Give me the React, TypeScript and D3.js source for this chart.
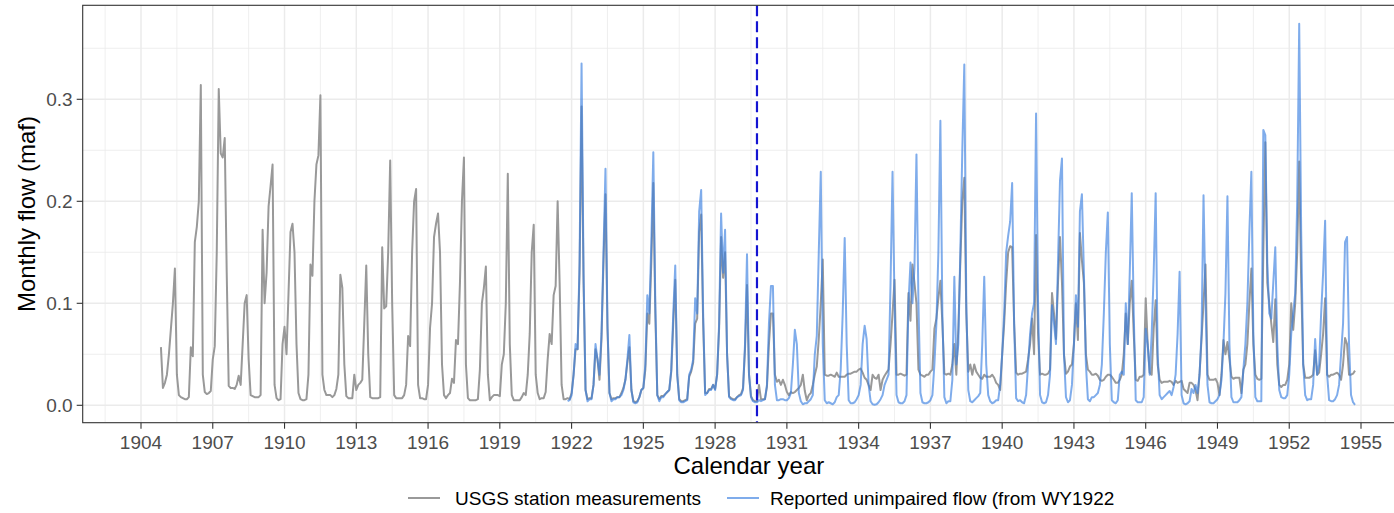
import React from 'react';
import * as d3 from 'd3';

// Monthly flow (maf), one row per water year (Oct..Sep)
const usgsFirstWY = 1905;
const usgsFlow: number[][] = [
  [0.057, 0.017, 0.022, 0.03, 0.05, 0.075, 0.1, 0.134, 0.03, 0.01, 0.008, 0.007],
  [0.006, 0.006, 0.008, 0.057, 0.048, 0.16, 0.175, 0.2, 0.314, 0.03, 0.013, 0.011],
  [0.012, 0.014, 0.045, 0.058, 0.15, 0.31, 0.247, 0.243, 0.262, 0.13, 0.019, 0.017],
  [0.017, 0.016, 0.02, 0.029, 0.02, 0.06, 0.1, 0.108, 0.045, 0.01, 0.009, 0.008],
  [0.008, 0.008, 0.01, 0.172, 0.1, 0.13, 0.195, 0.215, 0.236, 0.02, 0.007, 0.005],
  [0.006, 0.06, 0.077, 0.05, 0.11, 0.17, 0.178, 0.15, 0.06, 0.012, 0.006, 0.005],
  [0.005, 0.006, 0.03, 0.138, 0.127, 0.2, 0.236, 0.245, 0.304, 0.03, 0.015, 0.01],
  [0.01, 0.01, 0.008, 0.01, 0.016, 0.03, 0.128, 0.115, 0.04, 0.009, 0.007, 0.007],
  [0.007, 0.03, 0.015, 0.02, 0.022, 0.025, 0.08, 0.137, 0.05, 0.008, 0.007, 0.007],
  [0.007, 0.007, 0.008, 0.155, 0.095, 0.097, 0.15, 0.24, 0.1, 0.01, 0.007, 0.007],
  [0.007, 0.007, 0.01, 0.02, 0.068, 0.058, 0.15, 0.2, 0.212, 0.02, 0.007, 0.007],
  [0.006, 0.006, 0.02, 0.076, 0.1, 0.165, 0.178, 0.188, 0.15, 0.04, 0.01, 0.007],
  [0.01, 0.012, 0.026, 0.022, 0.064, 0.06, 0.12, 0.2, 0.243, 0.04, 0.007, 0.005],
  [0.005, 0.005, 0.005, 0.006, 0.035, 0.1, 0.115, 0.136, 0.03, 0.005, 0.008, 0.01],
  [0.01, 0.01, 0.009, 0.04, 0.05, 0.1, 0.227, 0.06, 0.01, 0.005, 0.005, 0.005],
  [0.005, 0.008, 0.012, 0.01, 0.03, 0.07, 0.15, 0.177, 0.03, 0.012, 0.006, 0.007],
  [0.007, 0.013, 0.045, 0.07, 0.06, 0.108, 0.117, 0.2, 0.12, 0.02, 0.006, 0.006],
  [0.007, 0.006, 0.012, 0.03, 0.055, 0.055, 0.13, 0.293, 0.12, 0.015, 0.006, 0.007],
  [0.007, 0.02, 0.055, 0.045, 0.025, 0.065, 0.14, 0.207, 0.075, 0.012, 0.006, 0.007],
  [0.007, 0.008, 0.008, 0.012, 0.017, 0.025, 0.042, 0.057, 0.015, 0.004, 0.003, 0.004],
  [0.008, 0.015, 0.017, 0.035, 0.09, 0.08, 0.14, 0.218, 0.09, 0.01, 0.006, 0.009],
  [0.009, 0.011, 0.013, 0.015, 0.033, 0.08, 0.123, 0.03, 0.006, 0.004, 0.004, 0.005],
  [0.006, 0.028, 0.033, 0.042, 0.08, 0.085, 0.17, 0.187, 0.08, 0.012, 0.012, 0.016],
  [0.016, 0.02, 0.016, 0.03, 0.075, 0.165, 0.125, 0.15, 0.05, 0.009, 0.007, 0.006],
  [0.006, 0.008, 0.01, 0.011, 0.017, 0.055, 0.118, 0.03, 0.009, 0.005, 0.004, 0.004],
  [0.02, 0.006, 0.006, 0.006, 0.018, 0.06, 0.09, 0.09, 0.03, 0.023, 0.025, 0.02],
  [0.025, 0.02, 0.013, 0.01, 0.013, 0.012, 0.013, 0.015, 0.017, 0.02, 0.03, 0.014],
  [0.005, 0.01, 0.012, 0.02, 0.03, 0.038, 0.065, 0.1, 0.143, 0.03, 0.029, 0.029],
  [0.03, 0.029, 0.028, 0.032, 0.028, 0.028, 0.028, 0.028, 0.03, 0.031, 0.031, 0.032],
  [0.033, 0.033, 0.035, 0.036, 0.032, 0.027, 0.025, 0.02, 0.015, 0.03, 0.027, 0.026],
  [0.03, 0.015, 0.025, 0.029, 0.032, 0.035, 0.06, 0.09, 0.123, 0.03, 0.03, 0.031],
  [0.03, 0.029, 0.03, 0.11, 0.083, 0.138, 0.12, 0.1, 0.035, 0.03, 0.029, 0.028],
  [0.03, 0.03, 0.033, 0.035, 0.075, 0.085, 0.105, 0.122, 0.08, 0.031, 0.03, 0.031],
  [0.03, 0.04, 0.06, 0.03, 0.075, 0.14, 0.2, 0.223, 0.09, 0.033, 0.04, 0.03],
  [0.04, 0.033, 0.03, 0.027, 0.026, 0.03, 0.028, 0.028, 0.028, 0.03, 0.027, 0.022],
  [0.02, 0.015, 0.05, 0.08, 0.12, 0.15, 0.156, 0.155, 0.08, 0.032, 0.03, 0.031],
  [0.031, 0.032, 0.033, 0.045, 0.06, 0.085, 0.05, 0.167, 0.07, 0.03, 0.031, 0.03],
  [0.03, 0.031, 0.035, 0.11, 0.09, 0.065, 0.12, 0.165, 0.12, 0.05, 0.031, 0.033],
  [0.038, 0.04, 0.06, 0.1, 0.064, 0.169, 0.142, 0.12, 0.05, 0.035, 0.033, 0.03],
  [0.03, 0.031, 0.029, 0.025, 0.024, 0.025, 0.028, 0.03, 0.03, 0.028, 0.025, 0.022],
  [0.022, 0.025, 0.03, 0.05, 0.09, 0.06, 0.1, 0.122, 0.07, 0.025, 0.024, 0.028],
  [0.028, 0.03, 0.105, 0.06, 0.032, 0.03, 0.075, 0.103, 0.04, 0.025, 0.022, 0.023],
  [0.023, 0.023, 0.024, 0.023, 0.02, 0.024, 0.022, 0.023, 0.024, 0.016, 0.014, 0.012],
  [0.022, 0.022, 0.02, 0.015, 0.005, 0.03, 0.065, 0.1, 0.138, 0.03, 0.025, 0.025],
  [0.025, 0.026, 0.022, 0.01, 0.03, 0.064, 0.05, 0.062, 0.045, 0.028, 0.026, 0.027],
  [0.027, 0.027, 0.012, 0.035, 0.04, 0.06, 0.1, 0.134, 0.06, 0.03, 0.026, 0.025],
  [0.026, 0.15, 0.258, 0.12, 0.1, 0.08, 0.062, 0.104, 0.04, 0.02, 0.018, 0.02],
  [0.02, 0.025, 0.04, 0.1, 0.074, 0.1, 0.15, 0.239, 0.12, 0.04, 0.027, 0.027],
  [0.027, 0.028, 0.03, 0.054, 0.03, 0.032, 0.05, 0.07, 0.105, 0.03, 0.028, 0.03],
  [0.03, 0.031, 0.032, 0.03, 0.025, 0.04, 0.066, 0.06, 0.03, 0.03, 0.031, 0.034],
];

const unimpairedFirstWY = 1922;
const unimpairedFlow: number[][] = [
  [0.004, 0.005, 0.01, 0.03, 0.06, 0.055, 0.14, 0.335, 0.13, 0.015, 0.004, 0.006],
  [0.006, 0.02, 0.06, 0.045, 0.03, 0.07, 0.15, 0.232, 0.08, 0.012, 0.004, 0.006],
  [0.006, 0.008, 0.008, 0.01, 0.015, 0.025, 0.045, 0.069, 0.015, 0.003, 0.002, 0.003],
  [0.008, 0.015, 0.017, 0.04, 0.108, 0.09, 0.16, 0.248, 0.1, 0.01, 0.004, 0.008],
  [0.008, 0.011, 0.013, 0.015, 0.035, 0.09, 0.137, 0.03, 0.005, 0.003, 0.003, 0.004],
  [0.005, 0.03, 0.035, 0.045, 0.105, 0.09, 0.19, 0.211, 0.09, 0.01, 0.012, 0.015],
  [0.015, 0.02, 0.015, 0.03, 0.08, 0.188, 0.13, 0.172, 0.05, 0.008, 0.006, 0.005],
  [0.005, 0.008, 0.009, 0.01, 0.015, 0.06, 0.148, 0.03, 0.008, 0.004, 0.003, 0.003],
  [0.005, 0.004, 0.005, 0.006, 0.02, 0.08, 0.117, 0.117, 0.02, 0.005, 0.005, 0.006],
  [0.006, 0.005, 0.005, 0.007, 0.012, 0.04, 0.074, 0.06, 0.012, 0.004, 0.001, 0.002],
  [0.002, 0.004, 0.006, 0.01, 0.05, 0.068, 0.15, 0.229, 0.06, 0.005, 0.002, 0.003],
  [0.002, 0.001, 0.003, 0.008, 0.01, 0.035, 0.09, 0.164, 0.06, 0.005, 0.002, 0.002],
  [0.003, 0.006, 0.01, 0.02, 0.06, 0.078, 0.065, 0.02, 0.004, 0.001, 0.0005, 0.001],
  [0.003, 0.006, 0.01, 0.02, 0.025, 0.03, 0.12, 0.229, 0.1, 0.01, 0.003, 0.002],
  [0.002, 0.004, 0.01, 0.1, 0.14, 0.1, 0.135, 0.246, 0.1, 0.012, 0.003, 0.002],
  [0.002, 0.003, 0.005, 0.01, 0.04, 0.08, 0.15, 0.279, 0.09, 0.008, 0.002, 0.004],
  [0.004, 0.025, 0.126, 0.04, 0.06, 0.15, 0.25, 0.334, 0.1, 0.015, 0.004, 0.003],
  [0.005, 0.007, 0.009, 0.012, 0.06, 0.126, 0.04, 0.01, 0.004, 0.002, 0.003, 0.005],
  [0.005, 0.02, 0.05, 0.09, 0.15, 0.166, 0.18, 0.218, 0.08, 0.007, 0.004, 0.005],
  [0.003, 0.002, 0.01, 0.04, 0.07, 0.09, 0.1, 0.286, 0.1, 0.01, 0.003, 0.002],
  [0.003, 0.01, 0.03, 0.098, 0.08, 0.06, 0.14, 0.22, 0.242, 0.05, 0.008, 0.003],
  [0.005, 0.02, 0.06, 0.108, 0.077, 0.19, 0.207, 0.13, 0.04, 0.006, 0.004, 0.008],
  [0.008, 0.01, 0.012, 0.02, 0.04, 0.09, 0.15, 0.189, 0.06, 0.005, 0.003, 0.002],
  [0.005, 0.03, 0.033, 0.03, 0.1, 0.06, 0.13, 0.208, 0.09, 0.005, 0.003, 0.003],
  [0.003, 0.008, 0.075, 0.06, 0.03, 0.07, 0.13, 0.208, 0.05, 0.01, 0.006, 0.008],
  [0.01, 0.012, 0.014, 0.01, 0.018, 0.03, 0.07, 0.131, 0.01, 0.002, 0.001, 0.002],
  [0.004, 0.016, 0.012, 0.02, 0.012, 0.03, 0.07, 0.206, 0.1, 0.02, 0.003, 0.002],
  [0.002, 0.004, 0.006, 0.01, 0.025, 0.06, 0.11, 0.205, 0.06, 0.008, 0.003, 0.003],
  [0.003, 0.005, 0.008, 0.035, 0.06, 0.1, 0.17, 0.229, 0.07, 0.008, 0.004, 0.004],
  [0.004, 0.27, 0.265, 0.14, 0.09, 0.085, 0.12, 0.155, 0.06, 0.015, 0.008, 0.007],
  [0.007, 0.01, 0.03, 0.07, 0.09, 0.11, 0.2, 0.374, 0.17, 0.04, 0.01, 0.005],
  [0.006, 0.006, 0.02, 0.065, 0.03, 0.04, 0.09, 0.13, 0.181, 0.03, 0.005, 0.004],
  [0.004, 0.006, 0.01, 0.02, 0.05, 0.08, 0.16, 0.165, 0.06, 0.01, 0.003, 0.0005],
];

const xTickYears = d3.range(1904, 1956, 3);
const xMinorYears = d3.range(1902.5, 1958, 3);
const yTicks = [0, 0.1, 0.2, 0.3];
const yMinor = [0.05, 0.15, 0.25, 0.35];
const changeoverYear = 1929.75; // start of WY1930

const legendItems = [
  { label: 'USGS station measurements', color: '#999999', opacity: 1 },
  { label: 'Reported unimpaired flow (from WY1922', color: '#3a80e0', opacity: 0.65 },
];

type Pt = { t: number; v: number };

// Month-end positions in decimal calendar years; water year starts in October
function toSeries(firstWY: number, rows: number[][]): Pt[] {
  const out: Pt[] = [];
  rows.forEach((row, i) => {
    const wy = firstWY + i;
    row.forEach((v, m) => out.push({ t: wy - 1 + (10 + m) / 12, v }));
  });
  return out;
}

const W = 1394;
const H = 513;
const panel = { left: 82.7, top: 5.3, bottom: 422.7, right: 1415 };
const FONT = '"Liberation Sans", Arial, Helvetica, sans-serif';

export default function App() {
  const x = d3.scaleLinear().domain([1904, 1955]).range([141, 1361]);
  const y = d3.scaleLinear().domain([0, 0.3]).range([405.3, 99.3]);

  const usgs = toSeries(usgsFirstWY, usgsFlow);
  const unimp = toSeries(unimpairedFirstWY, unimpairedFlow);
  const line = d3
    .line<Pt>()
    .x((d) => x(d.t))
    .y((d) => y(d.v));

  const grid = '#ebebeb';
  const cx = (panel.left + panel.right) / 2;

  return (
    <svg
      width={W}
      height={H}
      style={{ position: 'absolute', left: 0, top: 0, background: '#fff' }}
      fontFamily={FONT}
    >
      <defs>
        <clipPath id="panel-clip">
          <rect x={panel.left} y={panel.top} width={panel.right - panel.left} height={panel.bottom - panel.top} />
        </clipPath>
      </defs>
      <rect x={0} y={0} width={W} height={H} fill="#fff" />
      <g clipPath="url(#panel-clip)">
        {yMinor.map((v) => (
          <line key={'ym' + v} x1={panel.left} x2={panel.right} y1={y(v)} y2={y(v)} stroke={grid} strokeWidth={0.8} />
        ))}
        {xMinorYears.map((t) => (
          <line key={'xm' + t} x1={x(t)} x2={x(t)} y1={panel.top} y2={panel.bottom} stroke={grid} strokeWidth={0.8} />
        ))}
        {yTicks.map((v) => (
          <line key={'yg' + v} x1={panel.left} x2={panel.right} y1={y(v)} y2={y(v)} stroke={grid} strokeWidth={1.5} />
        ))}
        {xTickYears.map((t) => (
          <line key={'xg' + t} x1={x(t)} x2={x(t)} y1={panel.top} y2={panel.bottom} stroke={grid} strokeWidth={1.5} />
        ))}
        <path d={line(usgs) || ''} fill="none" stroke={legendItems[0].color} strokeWidth={2} strokeLinejoin="round" />
        <path
          d={line(unimp) || ''}
          fill="none"
          stroke={legendItems[1].color}
          strokeOpacity={legendItems[1].opacity}
          strokeWidth={2}
          strokeLinejoin="round"
        />
        <line
          x1={x(changeoverYear)}
          x2={x(changeoverYear)}
          y1={panel.top}
          y2={panel.bottom}
          stroke="#1414d2"
          strokeWidth={2.2}
          strokeDasharray="11,5"
        />
      </g>
      <rect
        x={panel.left}
        y={panel.top}
        width={panel.right - panel.left}
        height={panel.bottom - panel.top}
        fill="none"
        stroke="#333333"
        strokeWidth={1.1}
      />
      {/* y axis */}
      {yTicks.map((v) => (
        <g key={'yt' + v}>
          <line x1={panel.left - 6} x2={panel.left} y1={y(v)} y2={y(v)} stroke="#333333" strokeWidth={1.1} />
          <text x={panel.left - 10} y={y(v)} dy="0.35em" textAnchor="end" fontSize={19} fill="#4d4d4d">
            {d3.format('.1f')(v)}
          </text>
        </g>
      ))}
      {/* x axis */}
      {xTickYears.map((t) => (
        <g key={'xt' + t}>
          <line x1={x(t)} x2={x(t)} y1={panel.bottom} y2={panel.bottom + 6} stroke="#333333" strokeWidth={1.1} />
          <text x={x(t)} y={panel.bottom + 26} textAnchor="middle" fontSize={19} fill="#4d4d4d">
            {t}
          </text>
        </g>
      ))}
      <text x={cx} y={474} textAnchor="middle" fontSize={24} fill="#000">
        Calendar year
      </text>
      <text
        transform={`translate(35, ${(panel.top + panel.bottom) / 2}) rotate(-90)`}
        textAnchor="middle"
        fontSize={24}
        fill="#000"
      >
        Monthly flow (maf)
      </text>
      {/* legend */}
      <g transform="translate(408, 498)">
        <line x1={0} x2={32} y1={0} y2={0} stroke={legendItems[0].color} strokeWidth={2} />
        <text x={47} y={0} dy="0.35em" fontSize={19} fill="#000">
          {legendItems[0].label}
        </text>
        <line x1={319} x2={351} y1={0} y2={0} stroke={legendItems[1].color} strokeOpacity={legendItems[1].opacity} strokeWidth={2} />
        <text x={362} y={0} dy="0.35em" fontSize={19} fill="#000">
          {legendItems[1].label}
        </text>
      </g>
    </svg>
  );
}
